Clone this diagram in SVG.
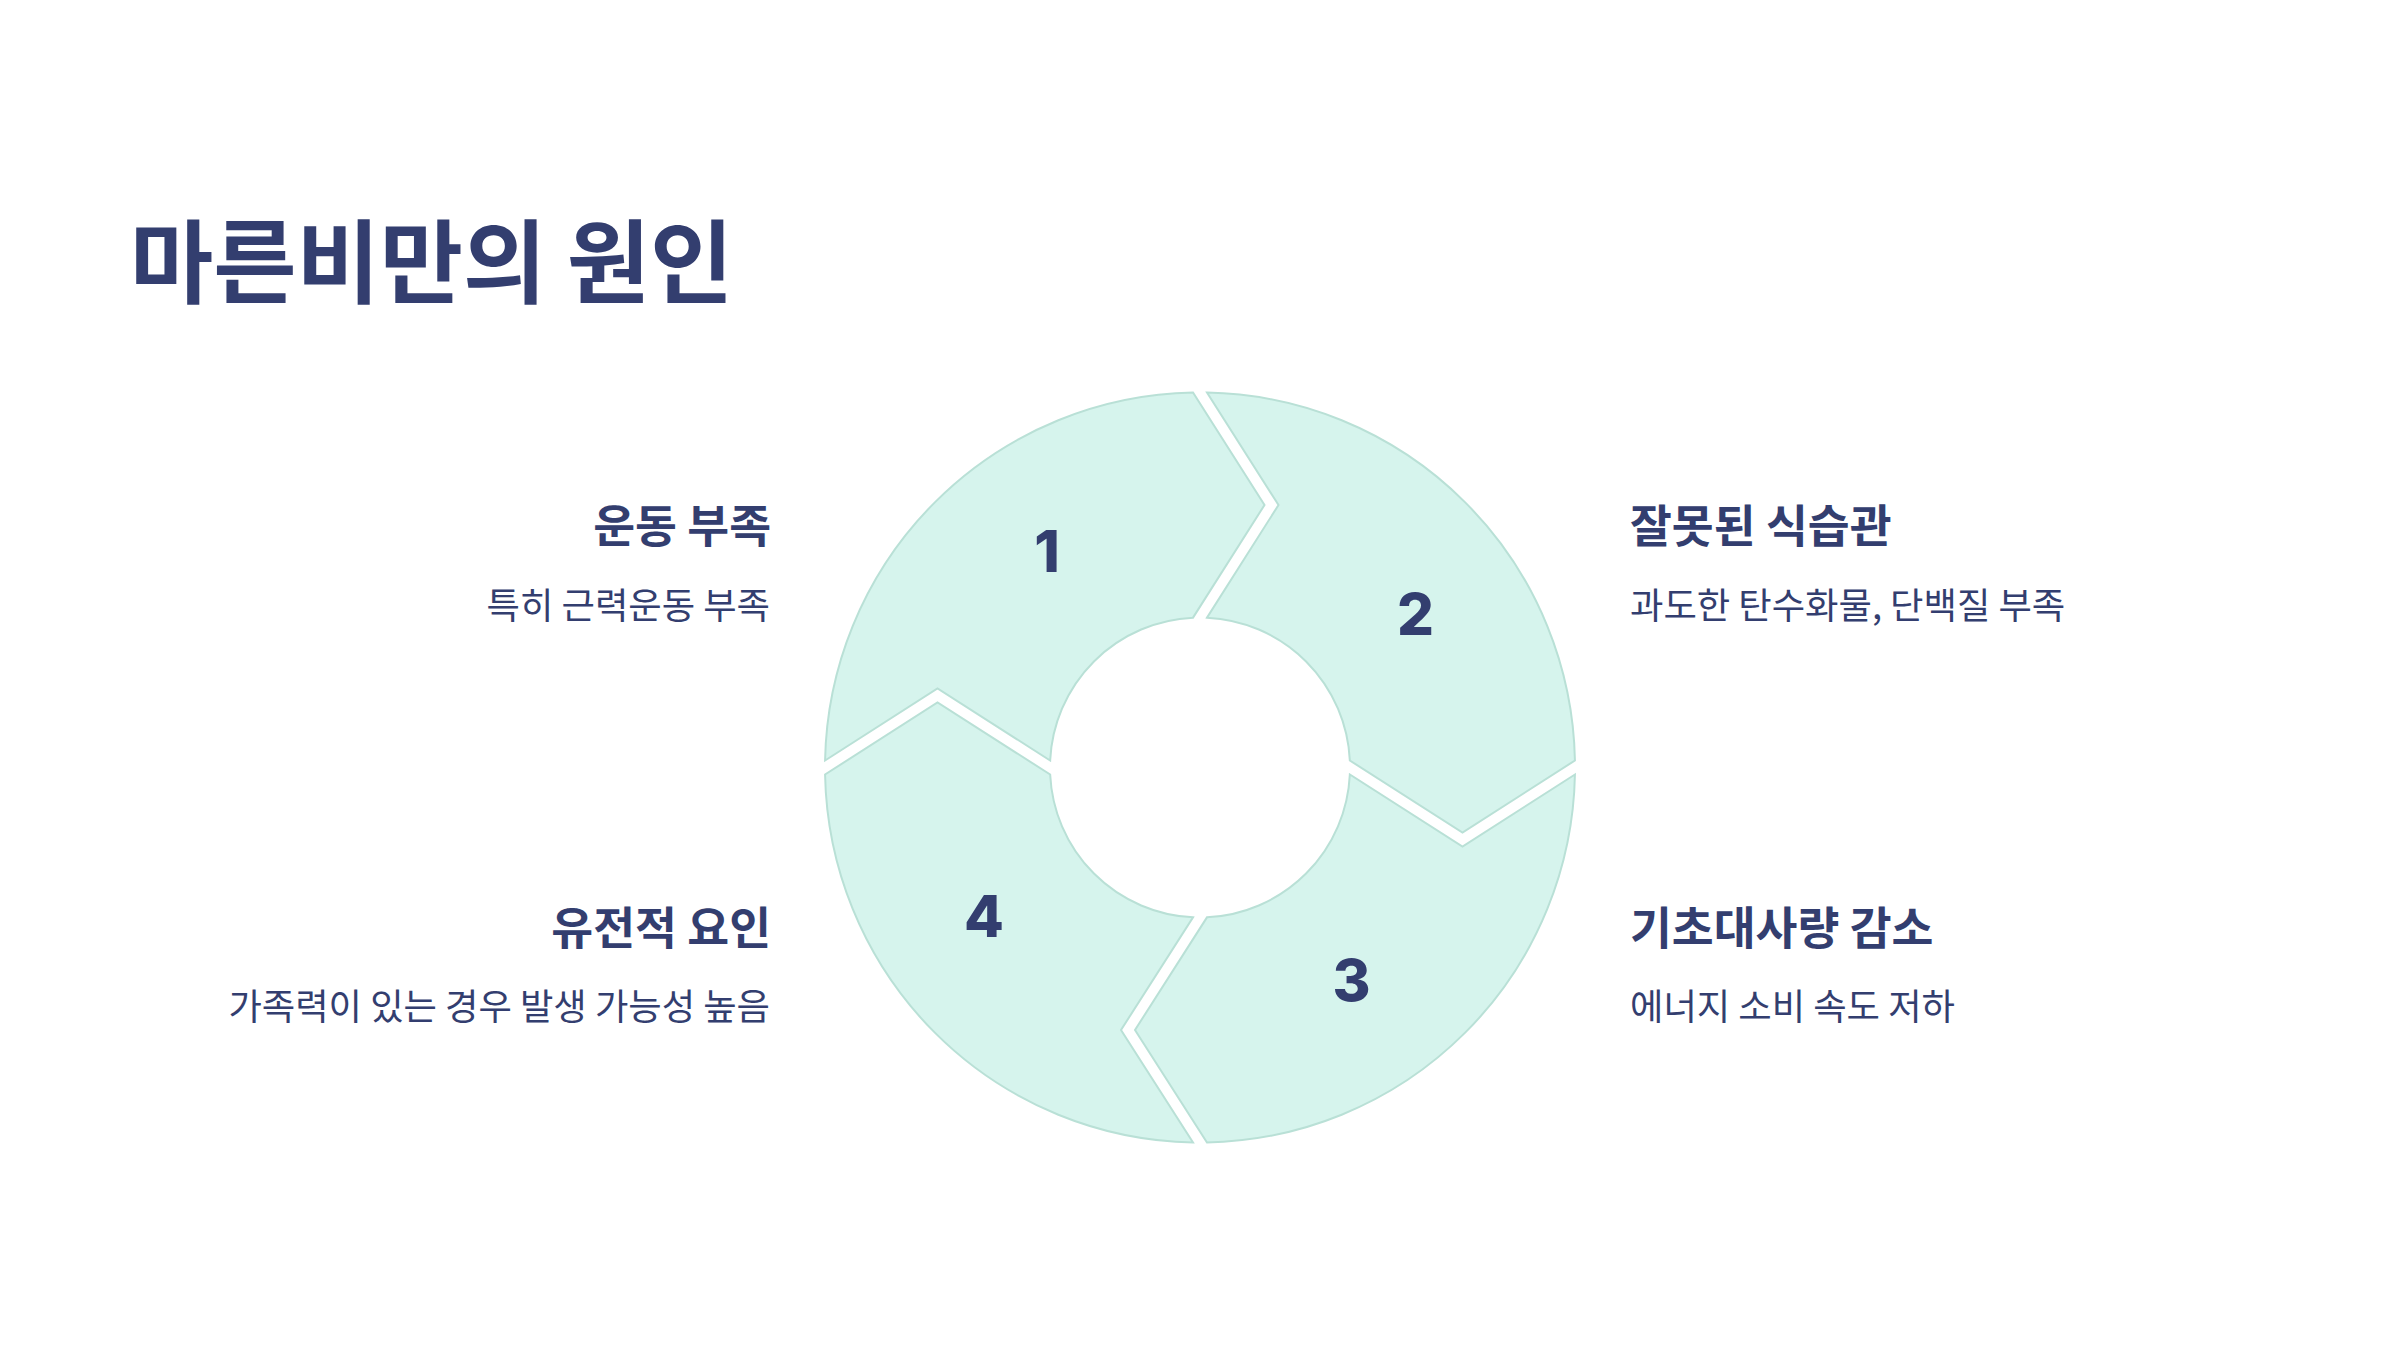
<svg xmlns="http://www.w3.org/2000/svg" width="2400" height="1350" viewBox="0 0 2400 1350">
<style>
.seg{fill:#D6F4ED;stroke:#B9E0D6;stroke-width:2}
.num{font-family:Inter,"Open Sans",sans-serif;font-weight:800;font-size:58px;fill:#333E6F;text-anchor:middle}
.title{font-family:"Noto Sans CJK KR","Noto Sans",sans-serif;font-weight:700;font-size:90.5px;fill:#333E6F}
.h{font-family:"Noto Sans CJK KR","Noto Sans",sans-serif;font-weight:700;font-size:45.5px;fill:#333E6F}
.s{font-family:"Noto Sans CJK KR","Noto Sans",sans-serif;font-weight:400;font-size:36.3px;fill:#333E6F}
.r{text-anchor:end}
</style>
<rect width="2400" height="1350" fill="#FFFFFF"/>
<text class="title" x="130" y="296">마른비만의 원인</text>
<g id="seg1">
<path class="seg" d="M 825.07 760.5 A 375 375 0 0 1 1193 392.57 L 1264.5 505 L 1193 617.66 A 150 150 0 0 0 1050.16 760.5 L 937.5 688.5 Z"/>
<text class="num" x="1047" y="572">1</text>
</g>
<g id="seg2">
<path class="seg" d="M 1207 392.57 A 375 375 0 0 1 1574.93 760.5 L 1462.5 832.5 L 1349.84 760.5 A 150 150 0 0 0 1207 617.66 L 1278.5 505 Z"/>
<text class="num" x="1415.5" y="635">2</text>
</g>
<g id="seg3">
<path class="seg" d="M 1574.93 774.5 A 375 375 0 0 1 1207 1142.43 L 1135 1030 L 1207 917.34 A 150 150 0 0 0 1349.84 774.5 L 1462.5 846.5 Z"/>
<text class="num" x="1351.5" y="1001">3</text>
</g>
<g id="seg4">
<path class="seg" d="M 1193 1142.43 A 375 375 0 0 1 825.07 774.5 L 937.5 702.5 L 1050.16 774.5 A 150 150 0 0 0 1193 917.34 L 1121 1030 Z"/>
<text class="num" x="984" y="937">4</text>
</g>
<g id="label1">
<text class="h r" x="771" y="543">운동 부족</text>
<text class="s r" x="770" y="619">특히 근력운동 부족</text>
</g>
<g id="label2">
<text class="h" x="1630" y="543">잘못된 식습관</text>
<text class="s" x="1630" y="619">과도한 탄수화물, 단백질 부족</text>
</g>
<g id="label3">
<text class="h" x="1630" y="945">기초대사량 감소</text>
<text class="s" x="1630" y="1020">에너지 소비 속도 저하</text>
</g>
<g id="label4">
<text class="h r" x="771" y="945">유전적 요인</text>
<text class="s r" x="770" y="1020">가족력이 있는 경우 발생 가능성 높음</text>
</g>
<g id="connectors"></g>
</svg>
